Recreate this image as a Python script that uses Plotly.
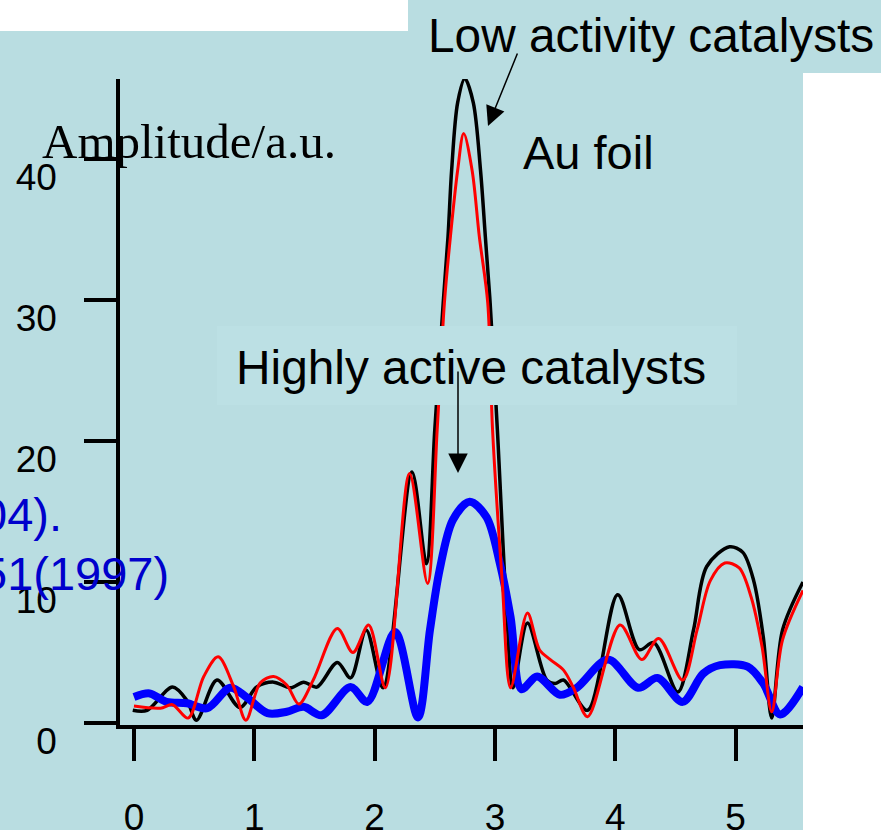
import plotly.graph_objects as go

# Fourier-transform amplitude vs. distance for three gold samples
black_x = [-0.01, 0.11, 0.32, 0.44, 0.52, 0.69, 0.88, 1.02, 1.16, 1.30, 1.41, 1.52, 1.69, 1.80, 1.93, 2.07,
           2.31, 2.43, 2.50, 2.57, 2.61, 2.64, 2.69, 2.75, 2.82, 2.88, 2.92, 2.96, 3.02, 3.10, 3.15,
           3.27, 3.43, 3.50, 3.57, 3.77, 4.02, 4.20, 4.32, 4.52, 4.65, 4.76, 4.95, 5.06, 5.15, 5.23, 5.30,
           5.39, 5.56]
black_y = [0.9, 0.9, 2.55, 1.6, 0.2, 3.05, 1.1, 2.55, 2.9, 2.5, 2.9, 2.55, 4.3, 3.2, 6.6, 2.5,
           17.8, 11.3, 20.8, 29.8, 34.5, 39.2, 44.0, 45.7, 44.0, 39.2, 34.5, 29.8, 20.8, 7.5, 2.5,
           7.1, 3.05, 2.8, 3.05, 0.9, 9.1, 5.2, 5.7, 2.2, 6.6, 11.1, 12.5, 12.1, 10.1, 6.1, 0.35,
           6.6, 10.0]

red_x = [0.0, 0.22, 0.32, 0.45, 0.58, 0.70, 0.83, 0.93, 1.05, 1.16, 1.27, 1.37, 1.49, 1.69, 1.82, 1.95, 2.09,
         2.29, 2.44, 2.52, 2.58, 2.63, 2.69, 2.74, 2.81, 2.87, 2.94, 2.98, 3.06, 3.13,
         3.27, 3.37, 3.46, 3.57, 3.65, 3.77, 4.04, 4.22, 4.36, 4.56, 4.68, 4.79, 4.91, 5.03, 5.13, 5.22,
         5.30, 5.39, 5.56]
red_y = [1.2, 1.05, 1.3, 0.35, 3.3, 4.7, 2.55, 0.2, 2.85, 3.3, 2.7, 1.35, 3.05, 6.7, 5.0, 6.95, 2.5,
         17.7, 9.9, 20.8, 29.8, 34.5, 39.2, 41.8, 39.2, 34.5, 29.8, 20.8, 10.1, 2.5,
         7.8, 5.2, 4.5, 3.75, 2.55, 0.45, 6.95, 4.5, 6.0, 3.05, 6.6, 10.1, 11.35, 11.0, 8.9, 5.4,
         0.8, 5.9, 9.4]

blue_x = [0.0, 0.13, 0.27, 0.44, 0.61, 0.80, 0.94, 1.11, 1.27, 1.41, 1.56, 1.80, 1.94, 2.17, 2.36,
          2.46, 2.54, 2.65, 2.79, 2.93, 3.04, 3.13, 3.22, 3.35, 3.54, 3.68, 3.94, 4.19, 4.35, 4.56,
          4.73, 4.87, 5.10, 5.23, 5.37, 5.56]
blue_y = [1.85, 2.1, 1.5, 1.4, 1.05, 2.5, 1.8, 0.7, 0.8, 1.15, 0.55, 2.55, 1.5, 6.45, 0.4,
          6.6, 10.85, 14.4, 15.7, 14.6, 11.35, 7.5, 2.4, 3.3, 2.0, 2.5, 4.5, 2.5, 3.2, 1.5,
          3.5, 4.1, 4.0, 2.8, 0.6, 2.55]

x_ticks = [0, 1, 2, 3, 4, 5]
y_ticks = [0, 10, 20, 30, 40]

panel = "#B9DDE1"
sans = "Liberation Sans, Arial, sans-serif"
serif = "Liberation Serif, Times New Roman, serif"

line_common = dict(shape="spline", smoothing=0.9)
fig = go.Figure()
fig.add_trace(go.Scatter(x=black_x, y=black_y, mode="lines", line=dict(color="black", width=3.5, **line_common)))
fig.add_trace(go.Scatter(x=blue_x, y=blue_y, mode="lines", line=dict(color="#0000FF", width=8, **line_common)))
fig.add_trace(go.Scatter(x=red_x, y=red_y, mode="lines", line=dict(color="#FF0000", width=3, **line_common)))

W, H = 881, 830
L, R, T, B = 120, 78, 79, 105
PW, PH = W - L - R, H - T - B


# page pixel -> paper (plot-area) fraction
def px(xp):
    return (xp - L) / PW


def py(yp):
    return (H - B - yp) / PH


shapes = [
    dict(type="rect", xref="paper", yref="paper", x0=px(0), x1=px(803), y0=py(830), y1=py(31),
         fillcolor=panel, line=dict(width=0), layer="below"),
    dict(type="rect", xref="paper", yref="paper", x0=px(408), x1=px(881), y0=py(73), y1=py(0),
         fillcolor=panel, line=dict(width=0), layer="above"),
    dict(type="rect", xref="paper", yref="paper", x0=px(217), x1=px(737), y0=py(405), y1=py(326),
         fillcolor="#BCE0E4", line=dict(width=0), layer="above"),
]

annotations = [
    dict(text="Amplitude/a.u.", xref="paper", yref="paper", x=px(40), y=py(141), xanchor="left", yanchor="middle",
         showarrow=False, font=dict(family=serif, size=49, color="black")),
    dict(text="Au foil", xref="paper", yref="paper", x=px(521), y=py(152), xanchor="left", yanchor="middle",
         showarrow=False, font=dict(family=sans, size=47, color="black")),
    dict(text="Low activity catalysts", xref="paper", yref="paper", x=px(426), y=py(36), xanchor="left", yanchor="middle",
         showarrow=False, font=dict(family=sans, size=47.8, color="black")),
    dict(text="Highly active catalysts", xref="paper", yref="paper", x=px(234), y=py(367), xanchor="left", yanchor="middle",
         showarrow=False, font=dict(family=sans, size=47.8, color="black")),
    dict(text="04).", xref="paper", yref="paper", x=px(64), y=py(514), xanchor="right", yanchor="middle",
         showarrow=False, font=dict(family=sans, size=47, color="#0000CC")),
    dict(text="51(1997)", xref="paper", yref="paper", x=px(171), y=py(573), xanchor="right", yanchor="middle",
         showarrow=False, font=dict(family=sans, size=47, color="#0000CC")),
    # arrows (tail offsets in pixels from the head)
    dict(text="", xref="paper", yref="paper", x=px(488), y=py(126), ax=30, ay=-74,
         axref="pixel", ayref="pixel", showarrow=True, arrowhead=2, arrowsize=2.6, arrowwidth=1.5, arrowcolor="black"),
    dict(text="", xref="paper", yref="paper", x=px(458), y=py(473), ax=0, ay=-103,
         axref="pixel", ayref="pixel", showarrow=True, arrowhead=2, arrowsize=2.6, arrowwidth=1.5, arrowcolor="black"),
]

fig.update_layout(
    width=W, height=H,
    margin=dict(l=L, r=R, t=T, b=B, pad=0, autoexpand=False),
    paper_bgcolor="white",
    plot_bgcolor="rgba(0,0,0,0)",
    showlegend=False,
    shapes=shapes,
    annotations=annotations,
    xaxis=dict(range=[-0.116, 5.56], tickvals=x_ticks, ticktext=[str(v) for v in x_ticks], automargin=False,
               showgrid=False, zeroline=False, showline=True, linecolor="black", linewidth=3.5,
               ticks="outside", ticklen=32, tickwidth=3.5, tickcolor="black",
               tickfont=dict(family=sans, size=37, color="black"), ticklabelstandoff=25),
    yaxis=dict(range=[-0.14, 45.67], tickvals=y_ticks, ticktext=[str(v) for v in y_ticks], automargin=False,
               showgrid=False, zeroline=False, showline=True, linecolor="black", linewidth=3.5,
               ticks="outside", ticklen=32, tickwidth=3.5, tickcolor="black",
               tickfont=dict(family=sans, size=37, color="black"), ticklabelstandoff=20,
               ticklabelshift=18),
)

fig.write_html("out.html")
